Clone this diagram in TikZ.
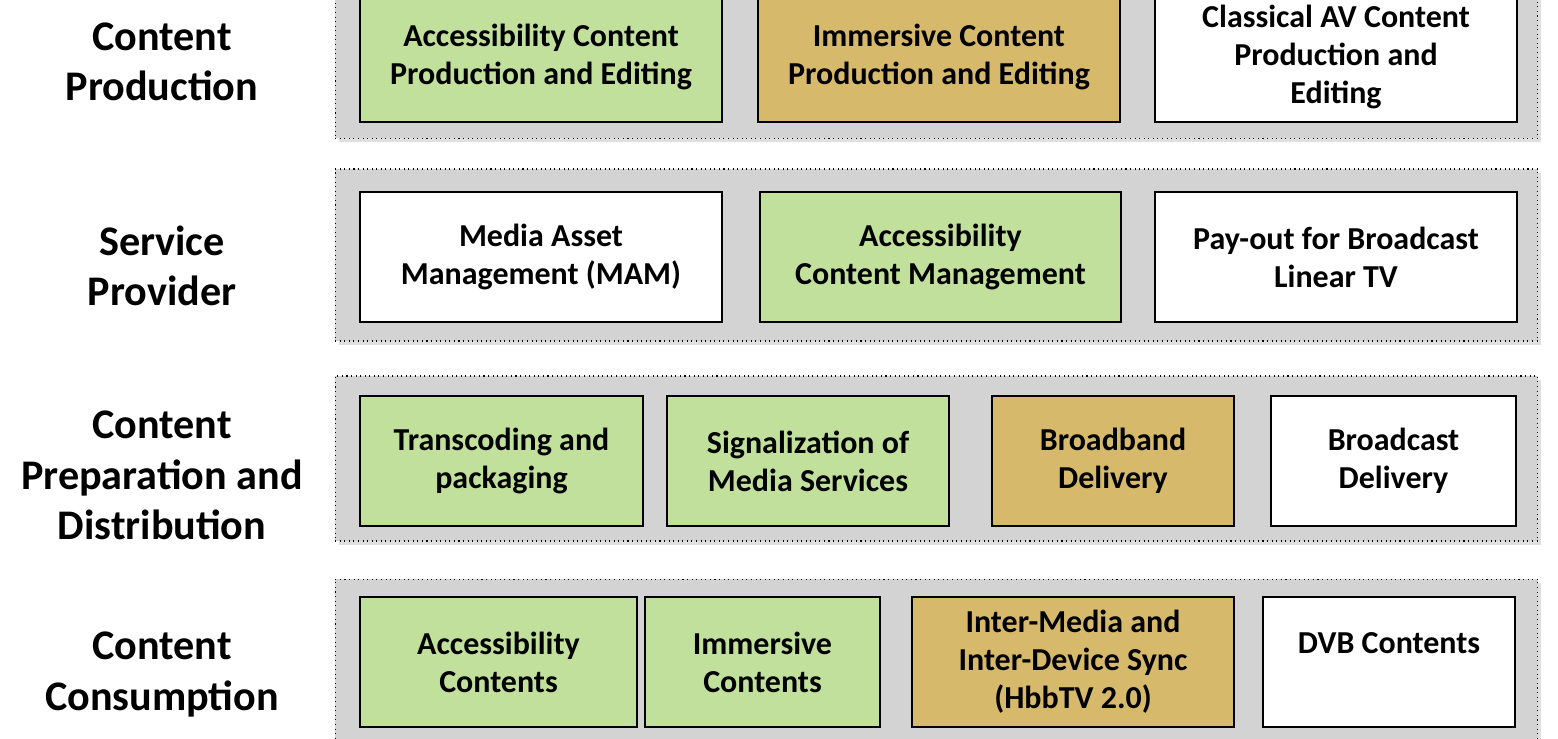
\documentclass[tikz,border=0pt]{standalone}
\usepackage{fontspec}
\setmainfont{Carlito}
\usepackage{tikz}
\usetikzlibrary{positioning,shadows}
\definecolor{accgreen}{HTML}{C0E09B}
\definecolor{immgold}{HTML}{D6B96B}
\definecolor{bandgray}{HTML}{D3D3D3}
\tikzset{band/.style={draw=black,dotted,fill=bandgray,line width=0.6pt,minimum width=24.06cm,
    drop shadow={opacity=0.25,shadow xshift=2pt,shadow yshift=-2pt}}}

\begin{document}
\begin{tikzpicture}[x=0.02cm, y=-0.02cm, font=\bfseries,
    box/.style={draw=black,line width=1.1pt,align=center,minimum height=2.6cm,inner sep=2pt,
        font=\fontsize{18.2}{21.6}\selectfont\bfseries},
    layer/.style={align=center,font=\fontsize{24}{28.6}\selectfont\bfseries}]
\useasboundingbox (0,0) rectangle (1558,738);
    % layers
    \node[band,minimum height=3.34cm] (prodband) at (936.5,55) {};
    \node[band,minimum height=3.44cm] (servband) at (936.5,255) {};
    \node[band,minimum height=3.30cm] (distband) at (936.5,458.5) {};
    \node[band,minimum height=3.26cm] (consband) at (936.5,660.5) {};

    \node[layer] (prodlbl) at (162,62) {Content\\Production};
    \node[layer] (servlbl) at (162,265.5) {Service\\Provider};
    \node[layer] (distlbl) at (162,475.5) {Content\\Preparation and\\Distribution};
    \node[layer] (conslbl) at (162,674.5) {Content\\Consumption};

    % content production
    \node[box,fill=accgreen,minimum width=7.24cm] (accprod) at (541,57) {Accessibility Content\\Production and Editing};
    \node[box,fill=immgold,minimum width=7.24cm] (immprod) at (939,57) {Immersive Content\\Production and Editing};
    \node[box,fill=white,minimum width=7.24cm] (avprod) at (1336,57) {Classical AV Content\\Production and\\Editing};

    % service provider
    \node[box,fill=white,minimum width=7.24cm] (mam) at (541,257) {Media Asset\\Management (MAM)};
    \node[box,fill=accgreen,minimum width=7.22cm] (accman) at (940.5,257) {Accessibility\\Content Management};
    \node[box,fill=white,minimum width=7.24cm] (payout) at (1336,257) {Pay-out for Broadcast\\Linear TV};

    % preparation and distribution
    \node[box,fill=accgreen,minimum width=5.66cm] (transc) at (501.5,461) {Transcoding and\\packaging};
    \node[box,fill=accgreen,minimum width=5.64cm] (signal) at (808,461) {Signalization of\\Media Services};
    \node[box,fill=immgold,minimum width=4.84cm] (bbdel) at (1113,461) {Broadband\\Delivery};
    \node[box,fill=white,minimum width=4.90cm] (bcdel) at (1393.5,461) {Broadcast\\Delivery};

    % consumption
    \node[box,fill=accgreen,minimum width=5.54cm] (acccons) at (498.5,662) {Accessibility\\Contents};
    \node[box,fill=accgreen,minimum width=4.70cm] (immcons) at (762.5,662) {Immersive\\Contents};
    \node[box,fill=immgold,minimum width=6.44cm] (sync) at (1073,662) {Inter-Media and\\Inter-Device Sync\\(HbbTV 2.0)};
    \node[box,fill=white,minimum width=5.04cm] (dvb) at (1389,662) {DVB Contents\\\mbox{}};
\end{tikzpicture}
\end{document}
